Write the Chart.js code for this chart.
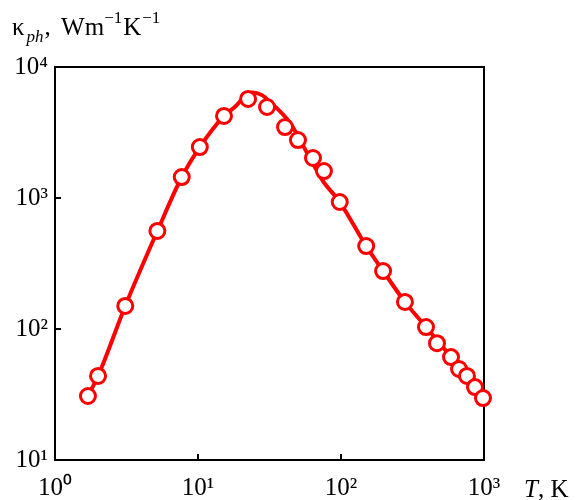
<!DOCTYPE html>
<html><head><meta charset="utf-8">
<script src="https://cdn.jsdelivr.net/npm/chart.js@4.4.1/dist/chart.umd.min.js"></script>
<style>html,body{margin:0;padding:0;background:#fff}</style>
</head><body>
<canvas id="c" width="577" height="500"></canvas>
<script>
// Measured points (markers)
const markerT = [1.7, 2, 3.1, 5.2, 7.7, 10.3, 15.2, 22.4, 30.4, 40.6, 50, 63.7, 76, 98, 150, 197, 280, 393, 469, 588, 669, 760, 865, 984];
const markerK = [30.8, 43.8, 150, 560, 1446, 2450, 4230, 5700, 4950, 3480, 2770, 2020, 1607, 932, 430, 277, 161, 103.5, 78, 61, 49.5, 43.8, 36, 29.7];
// Calculated curve
const curveT = [1.7, 2, 3.1, 5.2, 7.7, 10.3, 15.2, 18.4, 21, 24, 28, 32, 44, 60, 74, 98, 150, 197, 280, 393, 588, 984];
const curveK = [30.8, 43.8, 150, 560, 1446, 2450, 4230, 5040, 5900, 6400, 6100, 5400, 3740, 2060, 1370, 932, 430, 277, 161, 103.5, 61, 29.7];
// Tick values
const xTickVals = [1, 10, 100, 1000];
const yTickVals = [10, 100, 1000, 10000];
const supDigits = ['⁰','¹','²','³','⁴'];
function powLabel(v){ return '10' + supDigits[Math.round(Math.log10(v))]; }

const RED = '#ff0000';
const SERIF = '"Times New Roman", "Liberation Serif", Tinos, serif';

const titlesPlugin = {
  id: 'titles',
  afterDraw(chart){
    const ctx = chart.ctx;
    ctx.save();
    ctx.fillStyle = '#000';
    ctx.textBaseline = 'alphabetic';
    ctx.textAlign = 'left';
    let x = 12; const by = 35;
    const big = '25px ' + SERIF, small = '17px ' + SERIF, smallIt = 'italic 17px ' + SERIF;
    ctx.font = big; ctx.fillText('κ', x, by); x += ctx.measureText('κ').width + 2;
    ctx.font = smallIt; ctx.fillText('ph', x, by + 7); x += ctx.measureText('ph').width + 1;
    ctx.font = big; ctx.fillText(',', x, by); x += ctx.measureText(', ').width + 4;
    ctx.fillText('Wm', x, by); x += ctx.measureText('Wm').width;
    ctx.font = small; ctx.fillText('−1', x, by - 12); x += ctx.measureText('−1').width + 1;
    ctx.font = big; ctx.fillText('K', x, by); x += ctx.measureText('K').width + 1;
    ctx.font = small; ctx.fillText('−1', x, by - 12);
    let tx = 524; const tb = 497;
    ctx.font = 'italic 25px ' + SERIF; ctx.fillText('T', tx, tb); tx += ctx.measureText('T').width;
    ctx.font = big; ctx.fillText(', K', tx, tb);
    ctx.restore();
  }
};

function build(){
new Chart(document.getElementById('c'), {
  type: 'scatter',
  data: {
    datasets: [
      {
        label: 'markers',
        data: markerT.map((t, i) => ({x: t, y: markerK[i]})),
        showLine: false,
        pointRadius: 7.5,
        pointHoverRadius: 7.5,
        pointBorderWidth: 3,
        pointBorderColor: RED,
        pointBackgroundColor: '#fff',
        clip: false,
        order: 0
      },
      {
        label: 'curve',
        data: curveT.map((t, i) => ({x: t, y: curveK[i]})),
        showLine: true,
        pointRadius: 0,
        borderColor: RED,
        borderWidth: 4,
        cubicInterpolationMode: 'monotone',
        order: 1
      }
    ]
  },
  options: {
    responsive: false,
    animation: false,
    devicePixelRatio: 1,
    layout: { padding: { top: 67, left: 0, right: 93, bottom: 0 } },
    plugins: { legend: { display: false }, tooltip: { enabled: false } },
    scales: {
      x: {
        type: 'logarithmic', position: 'bottom', min: 1, max: 1000,
        afterBuildTicks: s => { s.ticks = xTickVals.map(v => ({value: v})); },
        afterFit: s => { s.height = 40; },
        ticks: { callback: v => powLabel(v), color: '#000', font: { family: SERIF, size: 25 }, padding: 19, maxRotation: 0, autoSkip: false },
        grid: { display: true, drawOnChartArea: false, drawTicks: true, tickLength: -6, color: '#000', lineWidth: 2 },
        border: { display: true, color: '#000', width: 2 }
      },
      y: {
        type: 'logarithmic', position: 'left', min: 10, max: 10000,
        afterBuildTicks: s => { s.ticks = yTickVals.map(v => ({value: v})); },
        afterFit: s => { s.width = 55; },
        ticks: { callback: v => powLabel(v), color: '#000', font: { family: SERIF, size: 25 }, padding: 13, autoSkip: false },
        grid: { display: true, drawOnChartArea: false, drawTicks: true, tickLength: -6, color: '#000', lineWidth: 2 },
        border: { display: true, color: '#000', width: 2 }
      },
      x2: {
        type: 'logarithmic', position: 'top', min: 1, max: 1000,
        afterFit: s => { s.height = 0; },
        ticks: { display: false },
        grid: { display: false, drawTicks: false },
        border: { display: true, color: '#000', width: 2 }
      },
      y2: {
        type: 'logarithmic', position: 'right', min: 10, max: 10000,
        afterFit: s => { s.width = 0; },
        ticks: { display: false },
        grid: { display: false, drawTicks: false },
        border: { display: true, color: '#000', width: 2 }
      }
    }
  },
  plugins: [titlesPlugin]
});
}
if (document.fonts && document.fonts.load) {
  Promise.all([
    document.fonts.load('25px "Times New Roman"'),
    document.fonts.load('italic 25px "Times New Roman"'),
    document.fonts.load('25px "Liberation Serif"')
  ]).then(build, build);
} else { build(); }
</script>
</body></html>
